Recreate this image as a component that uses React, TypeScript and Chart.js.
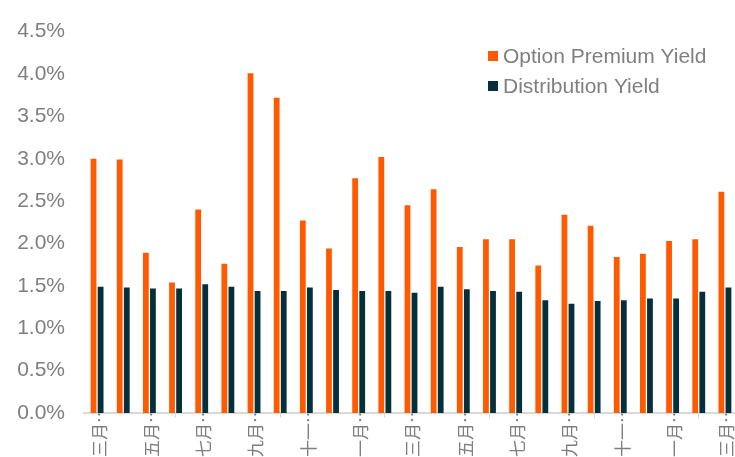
import React, { useEffect, useRef } from 'react';
import { Chart, registerables } from 'chart.js';

Chart.register(...registerables);

const months = [
  '三月', '四月', '五月', '六月', '七月', '八月', '九月', '十月', '十一月', '十二月', '一月', '二月',
  '三月', '四月', '五月', '六月', '七月', '八月', '九月', '十月', '十一月', '十二月', '一月', '二月',
  '三月',
];

const optionPremiumYield = [
  3.00, 2.99, 1.89, 1.54, 2.40, 1.76, 4.01, 3.72, 2.27, 1.94, 2.77, 3.02,
  2.45, 2.64, 1.96, 2.05, 2.05, 1.74, 2.34, 2.21, 1.84, 1.88, 2.03, 2.05,
  2.61,
];

const distributionYield = [
  1.49, 1.48, 1.47, 1.47, 1.52, 1.49, 1.44, 1.44, 1.48, 1.45, 1.44, 1.44,
  1.42, 1.49, 1.46, 1.44, 1.43, 1.33, 1.29, 1.32, 1.33, 1.35, 1.35, 1.43,
  1.48,
];

const seriesNames = ['Option Premium Yield', 'Distribution Yield'];
const seriesColors = ['#FF5A00', '#03303A'];

const yMin = 0;
const yMax = 4.5;
const yStep = 0.5;

const textGray = '#7f7f7f';
const axisGray = '#d9d9d9';

const cornerLegend = {
  id: 'cornerLegend',
  afterDraw(chart: any) {
    const { ctx } = chart;
    ctx.save();
    ctx.font = '21px "Liberation Sans", Arial, sans-serif';
    ctx.textBaseline = 'middle';
    ctx.textAlign = 'left';
    chart.data.datasets.forEach((ds: any, i: number) => {
      const cy = 56 + i * 30;
      ctx.fillStyle = ds.backgroundColor;
      ctx.fillRect(488, cy - 5, 10, 10);
      ctx.fillStyle = textGray;
      ctx.fillText(ds.label, 503, cy + 1);
    });
    ctx.restore();
  },
};

export default function App() {
  const canvasRef = useRef<HTMLCanvasElement>(null);

  useEffect(() => {
    if (!canvasRef.current) return;
    const chart = new Chart(canvasRef.current, {
      type: 'bar',
      data: {
        labels: months,
        datasets: [
          {
            label: seriesNames[0],
            data: optionPremiumYield,
            backgroundColor: seriesColors[0],
            barPercentage: 0.82,
            categoryPercentage: 0.54,
          },
          {
            label: seriesNames[1],
            data: distributionYield,
            backgroundColor: seriesColors[1],
            barPercentage: 0.82,
            categoryPercentage: 0.54,
          },
        ],
      },
      options: {
        animation: false,
        responsive: true,
        maintainAspectRatio: false,
        layout: { padding: { top: 30, right: 2, bottom: 0, left: 0 } },
        plugins: {
          legend: { display: false },
          tooltip: { enabled: false },
        },
        scales: {
          x: {
            grid: {
              display: true,
              drawOnChartArea: false,
              drawTicks: true,
              tickLength: 5,
              color: axisGray,
              lineWidth: 1,
              offset: true,
            },
            border: { display: true, color: axisGray, width: 2 },
            ticks: {
              autoSkip: true,
              maxTicksLimit: 13,
              minRotation: 90,
              maxRotation: 90,
              padding: -12,
              labelOffset: 2,
              color: textGray,
              font: { family: '"Noto Sans CJK SC", sans-serif', size: 17 },
              callback: (v: any) => months[v as number].slice(0, 2) + '…',
            },
            afterFit: (s: any) => {
              s.height = 44;
            },
          },
          y: {
            min: yMin,
            max: yMax,
            grid: { display: false, drawTicks: false },
            border: { display: false },
            ticks: {
              stepSize: yStep,
              padding: 19,
              color: textGray,
              font: { family: '"Liberation Sans", Arial, sans-serif', size: 21 },
              callback: (v: any) => Number(v).toFixed(1) + '%',
            },
            afterFit: (s: any) => {
              s.width = 84;
            },
          },
        },
      },
      plugins: [cornerLegend],
    });
    return () => chart.destroy();
  }, []);

  return (
    <div
      style={{
        position: 'fixed',
        left: 0,
        top: 0,
        width: 735,
        height: 457,
        overflow: 'hidden',
        background: '#ffffff',
      }}
    >
      <div style={{ position: 'relative', width: 740, height: 457 }}>
        <canvas ref={canvasRef} />
      </div>
    </div>
  );
}
